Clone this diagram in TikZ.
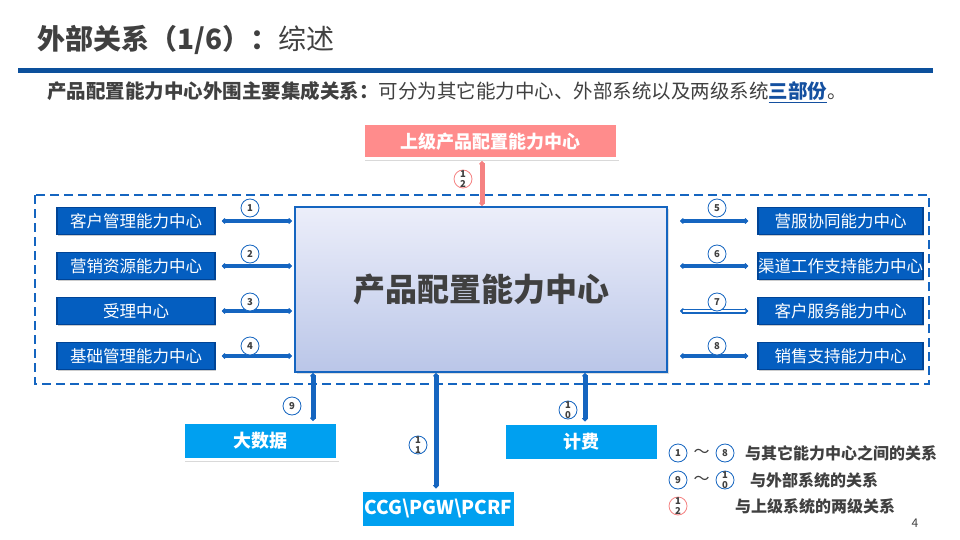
\documentclass[tikz,border=0pt]{standalone}
\usepackage{fontspec}
\setmainfont{Noto Sans CJK SC}
\usetikzlibrary{arrows.meta,shadows,calc}
\definecolor{titlegray}{RGB}{64,64,64}
\definecolor{rulecol}{RGB}{12,80,156}
\definecolor{cblue}{RGB}{21,101,192}
\definecolor{boxblue}{RGB}{4,94,192}
\definecolor{boxedge}{RGB}{0,68,150}
\definecolor{sky}{RGB}{0,160,240}
\definecolor{pinkc}{RGB}{255,140,140}
\definecolor{pinkline}{RGB}{245,130,130}
\definecolor{maintop}{RGB}{236,238,250}
\definecolor{mainbot}{RGB}{186,198,232}
\definecolor{linkblue}{RGB}{20,80,160}
\tikzset{
 sidebox/.style={draw=boxedge, line width=1.5pt, fill=boxblue, text=white, minimum height=27pt, inner sep=0pt, font=\fontsize{16.5}{16.5}\selectfont, drop shadow={shadow xshift=1pt,shadow yshift=-1.5pt,opacity=0.4}},
 extbox/.style={draw=white, line width=3pt, fill=sky, text=white, minimum width=154pt, minimum height=37pt, inner sep=0pt, font=\fontsize{18}{18}\selectfont\bfseries, drop shadow={shadow xshift=1.5pt,shadow yshift=-2pt,opacity=0.3}},
 conn/.style={draw=cblue, line width=4.5pt, {Stealth[length=4pt,width=7.5pt,round]}-{Stealth[length=4pt,width=7.5pt,round]}},
 dconn/.style={draw=cblue, line width=1.8pt, double=white, double distance=1.4pt, {Stealth[length=4pt,width=7.5pt,round]}-{Stealth[length=4pt,width=7.5pt,round]}},
 pconn/.style={draw=pinkline, line width=5pt, {Stealth[length=4pt,width=7.5pt,round]}-{Stealth[length=4pt,width=7.5pt,round]}},
 ncirc/.style={circle, draw=cblue, line width=0.8pt, fill=white, minimum size=18pt, inner sep=0pt},
 rcirc/.style={ncirc, draw=pinkline},
 ntxt/.style={font=\fontsize{9.5}{10.5}\selectfont\bfseries, text=titlegray, align=center, inner sep=0pt},
 legtxt/.style={anchor=west, inner sep=0pt, font=\fontsize{16}{16}\selectfont\bfseries, text=titlegray},
}
\begin{document}
\begin{tikzpicture}[x=1pt,y=-1pt]
\useasboundingbox (0,0) rectangle (960,540);
% title
\node[anchor=west, inner sep=0pt, text=titlegray, font=\fontsize{28}{28}\selectfont] (title) at (37,40) {\bfseries 外部关系（1/6）：\mdseries 综述};
\draw[rulecol, line width=5pt] (18,70.5) -- (933,70.5);
\node[anchor=west, inner sep=0pt, text=titlegray, font=\fontsize{19.5}{19.5}\selectfont] (sub) at (47,92)
 {{\bfseries 产品配置能力中心外围主要集成关系：}可分为其它能力中心、外部系统以及两级系统{\bfseries\color{linkblue}\underline{三部份}}。};
% dashed frame
\draw[cblue, line width=2.5pt, dash pattern=on 9pt off 5pt] (35,195) rectangle (929,384);
% top pink box
\node[draw=white, line width=3pt, fill=pinkc, text=white, minimum width=254pt, minimum height=35pt, inner sep=0pt, font=\fontsize{18}{18}\selectfont\bfseries, drop shadow={shadow xshift=1.5pt,shadow yshift=-2pt,opacity=0.3}] (top) at (490,141.5) {上级产品配置能力中心};
% main box
\node[draw=cblue, line width=2pt, top color=maintop, bottom color=mainbot, minimum width=372pt, minimum height=165pt, inner sep=0pt, text=titlegray, font=\fontsize{32}{32}\selectfont\bfseries, drop shadow={shadow xshift=1.5pt,shadow yshift=-2pt,opacity=0.25}] (main) at (481,289.5) {产品配置能力中心};
% pink connector
\coordinate (p12) at (482,161);
\draw[pconn] (p12) -- (p12 |- main.north);
\node[rcirc] (c12) at (463,179) {};
\node[ntxt] (t12) at (c12) {1\\2};
% left boxes
\node[sidebox, minimum width=158pt] (L1) at (136,221) {客户管理能力中心};
\node[sidebox, minimum width=158pt] (L2) at (136,266) {营销资源能力中心};
\node[sidebox, minimum width=158pt] (L3) at (136,311) {受理中心};
\node[sidebox, minimum width=158pt] (L4) at (136,356) {基础管理能力中心};
% right boxes
\node[sidebox, minimum width=165pt] (R1) at (840.5,221) {营服协同能力中心};
\node[sidebox, minimum width=165pt] (R2) at (840.5,266) {渠道工作支持能力中心};
\node[sidebox, minimum width=165pt] (R3) at (840.5,311) {客户服务能力中心};
\node[sidebox, minimum width=165pt] (R4) at (840.5,356) {销售支持能力中心};
% left connectors
\draw[conn, shorten <=6pt, shorten >=2pt] (L1.east) -- (main.west |- L1.east);
\draw[conn, shorten <=6pt, shorten >=2pt] (L2.east) -- (main.west |- L2.east);
\draw[conn, shorten <=6pt, shorten >=2pt] (L3.east) -- (main.west |- L3.east);
\draw[conn, shorten <=6pt, shorten >=2pt] (L4.east) -- (main.west |- L4.east);
\draw[conn, shorten <=12pt, shorten >=9pt] (main.east |- R1.west) -- (R1.west);
\draw[conn, shorten <=12pt, shorten >=9pt] (main.east |- R2.west) -- (R2.west);
\draw[dconn, shorten <=12pt, shorten >=9pt] (main.east |- R3.west) -- (R3.west);
\draw[conn, shorten <=12pt, shorten >=9pt] (main.east |- R4.west) -- (R4.west);
% number circles
\node[ncirc] (c1) at (250,208) {}; \node[ntxt] (t1) at (c1) {1};
\node[ncirc] (c2) at (250,254) {}; \node[ntxt] (t2) at (c2) {2};
\node[ncirc] (c3) at (250,302) {}; \node[ntxt] (t3) at (c3) {3};
\node[ncirc] (c4) at (250,346) {}; \node[ntxt] (t4) at (c4) {4};
\node[ncirc] (c5) at (717,208) {}; \node[ntxt] (t5) at (c5) {5};
\node[ncirc] (c6) at (717,254) {}; \node[ntxt] (t6) at (c6) {6};
\node[ncirc] (c7) at (717,302) {}; \node[ntxt] (t7) at (c7) {7};
\node[ncirc] (c8) at (717,346) {}; \node[ntxt] (t8) at (c8) {8};
% external boxes
\node[extbox] (BD) at (260,441) {大数据};
\node[extbox] (JF) at (581.5,441.5) {计费};
\node[extbox, font=\fontsize{19}{19}\selectfont\bfseries] (CCG) at (438.5,508.5) {CCG\textbackslash PGW\textbackslash PCRF};
\coordinate (m9) at (313,373);
\coordinate (m10) at (585,373);
\coordinate (m11) at (436,373);
\draw[conn, line width=5pt] (m9) -- (m9 |- BD.north);
\draw[conn, line width=5pt] (m10) -- (m10 |- JF.north);
\draw[conn, line width=5pt] (m11) -- (m11 |- CCG.north);
\node[ncirc] (c9) at (292,406) {}; \node[ntxt] (t9) at (c9) {9};
\node[ncirc] (c10) at (568,410) {}; \node[ntxt] (t10) at (c10) {1\\0};
\node[ncirc] (c11) at (418,445) {}; \node[ntxt] (t11) at (c11) {1\\1};
% legend
\node[ncirc] (g1) at (678,453) {}; \node[ntxt] (gt1) at (g1) {1};
\node[inner sep=0pt, text=titlegray, font=\fontsize{16}{16}\selectfont] (gw1) at (701.5,453) {～};
\node[ncirc] (g8) at (725,453) {}; \node[ntxt] (gt8) at (g8) {8};
\node[legtxt] (gl1) at (745,453) {与其它能力中心之间的关系};
\node[ncirc] (g9) at (678,480) {}; \node[ntxt] (gt9) at (g9) {9};
\node[inner sep=0pt, text=titlegray, font=\fontsize{16}{16}\selectfont] (gw2) at (701.5,480) {～};
\node[ncirc] (g10) at (725,480) {}; \node[ntxt] (gt10) at (g10) {1\\0};
\node[legtxt] (gl2) at (750,480) {与外部系统的关系};
\node[rcirc] (g12) at (678,506) {}; \node[ntxt] (gt12) at (g12) {1\\2};
\node[legtxt] (gl3) at (735,506) {与上级系统的两级关系};
\node[inner sep=0pt, text=titlegray, font=\fontsize{12}{12}\selectfont] (pg) at (915,523) {4};
\end{tikzpicture}
\end{document}
